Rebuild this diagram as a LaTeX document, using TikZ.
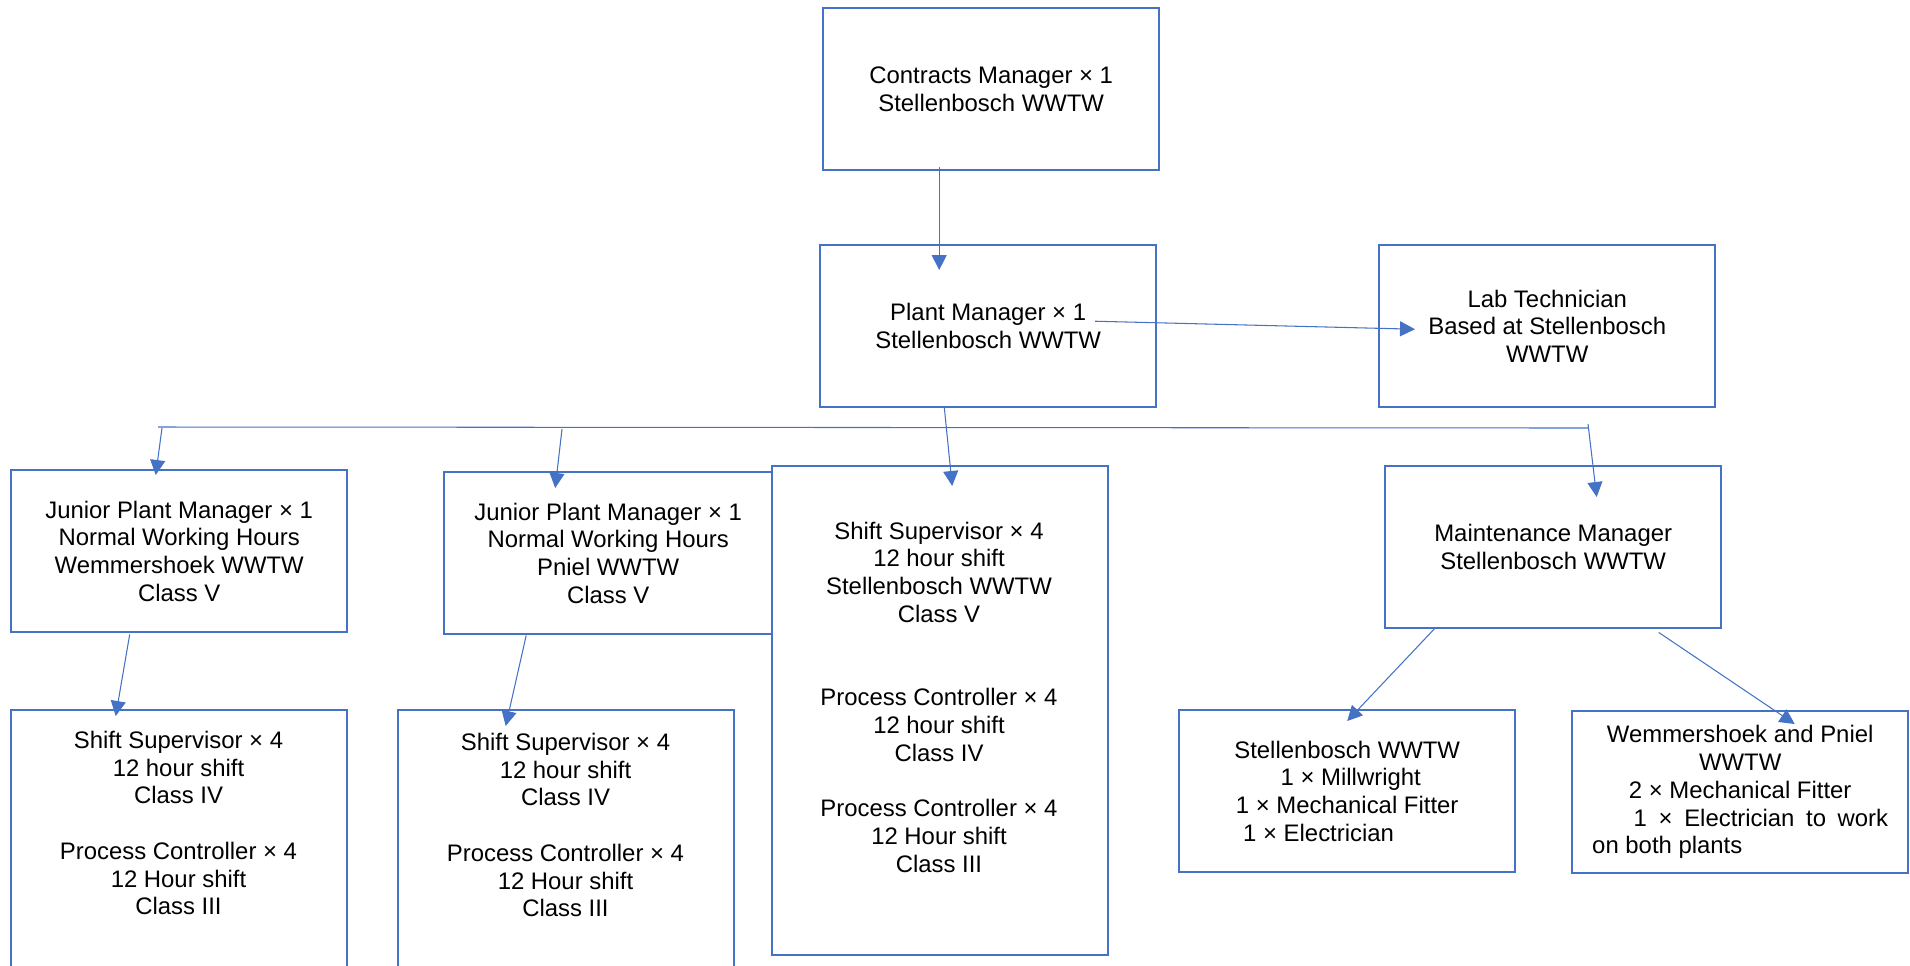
\documentclass[tikz,border=0pt]{standalone}
\usepackage{fontspec}
\setmainfont{Liberation Sans}
\usetikzlibrary{arrows.meta,calc}
\definecolor{officeblue}{HTML}{4472C4}
\begin{document}
\begin{tikzpicture}[x=0.02cm,y=-0.02cm]
  % Define styles for nodes
  \tikzstyle{rolebox} = [anchor=north west, draw=officeblue, rectangle,
  line width=1.4pt, minimum width=6.72cm, minimum height=3.24cm,
  inner sep=0pt, align=center, font=\fontsize{13.6}{15.8}\selectfont]
  \tikzstyle{roletext} = [align=center, inner sep=0pt,
  font=\fontsize{13.6}{15.8}\selectfont]
  \tikzstyle{link} = [draw=officeblue, line width=0.6pt,
  -{Triangle[length=0.3cm,width=0.3cm]}]

  \useasboundingbox (0,0) rectangle (1910,965);

  % Top level
  \node[rolebox] (contracts) at (822,7) {Contracts Manager × 1\\Stellenbosch WWTW};
  \node[rolebox] (plant) at (819,244) {Plant Manager × 1\\Stellenbosch WWTW};
  \node[rolebox] (lab) at (1378,244) {Lab Technician\\Based at Stellenbosch\\WWTW};

  % Second row
  \node[rolebox] (juniorW) at (10,469) {Junior Plant Manager × 1\\Normal Working Hours\\Wemmershoek WWTW\\Class V};
  \node[rolebox, minimum width=6.56cm] (juniorP) at (443,471) {Junior Plant Manager × 1\\Normal Working Hours\\Pniel WWTW\\Class V};
  \node[rolebox, minimum height=9.78cm] (shiftS) at (771,465) {};
  \node[rolebox] (maint) at (1384,465) {Maintenance Manager\\Stellenbosch WWTW};

  % Bottom row
  \node[rolebox, minimum height=6.4cm] (shiftW) at (10,709) {};
  \node[rolebox, minimum height=6.4cm] (shiftP) at (397,709) {};
  \node[rolebox] (fitS) at (1178,709) {Stellenbosch WWTW\\\makebox[4.46cm][l]{\hspace*{0.9cm}1 × Millwright}\\1 × Mechanical Fitter\\\makebox[4.46cm][l]{\hspace*{0.15cm}1 × Electrician}};
  \node[rolebox] (fitW) at (1571,710) {Wemmershoek and Pniel\\WWTW\\2 × Mechanical Fitter\\\makebox[5.92cm][s]{\hspace*{0.83cm}1 × Electrician to work}\\\makebox[5.92cm][l]{on both plants}};

  % Text in the tall boxes
  \node[roletext] (shiftStxt) at (939,697) {Shift Supervisor × 4\\12 hour shift\\Stellenbosch WWTW\\Class V\\[31.6pt]Process Controller × 4\\12 hour shift\\Class IV\\[15.8pt]Process Controller × 4\\12 Hour shift\\Class III};
  \node[roletext] (shiftWtxt) at (178.5,823) {Shift Supervisor × 4\\12 hour shift\\Class IV\\[15.8pt]Process Controller × 4\\12 Hour shift\\Class III};
  \node[roletext] (shiftPtxt) at (565.5,825) {Shift Supervisor × 4\\12 hour shift\\Class IV\\[15.8pt]Process Controller × 4\\12 Hour shift\\Class III};

  % Connections
  \coordinate (busL) at (158,427);
  \coordinate (busR) at (1588,428);
  \draw[link] ($(contracts.south)+(-52,-4)$) -- ($(plant.north)+(-49,26)$);
  \draw[link] ($(plant.center)+(107,-5)$) -- ($(lab.west)+(37,3)$);
  \draw[link] ($(plant.south)+(-44,-2)$) -- ($(shiftS.north)+(12,21)$);
  \draw[draw=officeblue, line width=0.6pt] (busL) -- (busR);
  \draw[link] ($(busL)+(4,1)$) -- ($(juniorW.north)+(-23.5,6)$);
  \draw[link] ($(busL)+(404,2)$) -- ($(juniorP.north)+(-53,17)$);
  \draw[link] ($(busR)+(0,-4)$) -- ($(maint.north)+(43.5,32)$);
  \draw[link] ($(juniorW.south)+(-49.5,1)$) -- ($(shiftW.north)+(-63.5,7)$);
  \draw[link] ($(juniorP.south)+(-82,0)$) -- ($(shiftP.north)+(-60.5,17)$);
  \draw[link] ($(maint.south)+(-117.5,-2)$) -- ($(fitS.north)+(0,12)$);
  \draw[link] ($(maint.south)+(105.5,3)$) -- ($(fitW.north)+(54.5,14)$);
\end{tikzpicture}
\end{document}
